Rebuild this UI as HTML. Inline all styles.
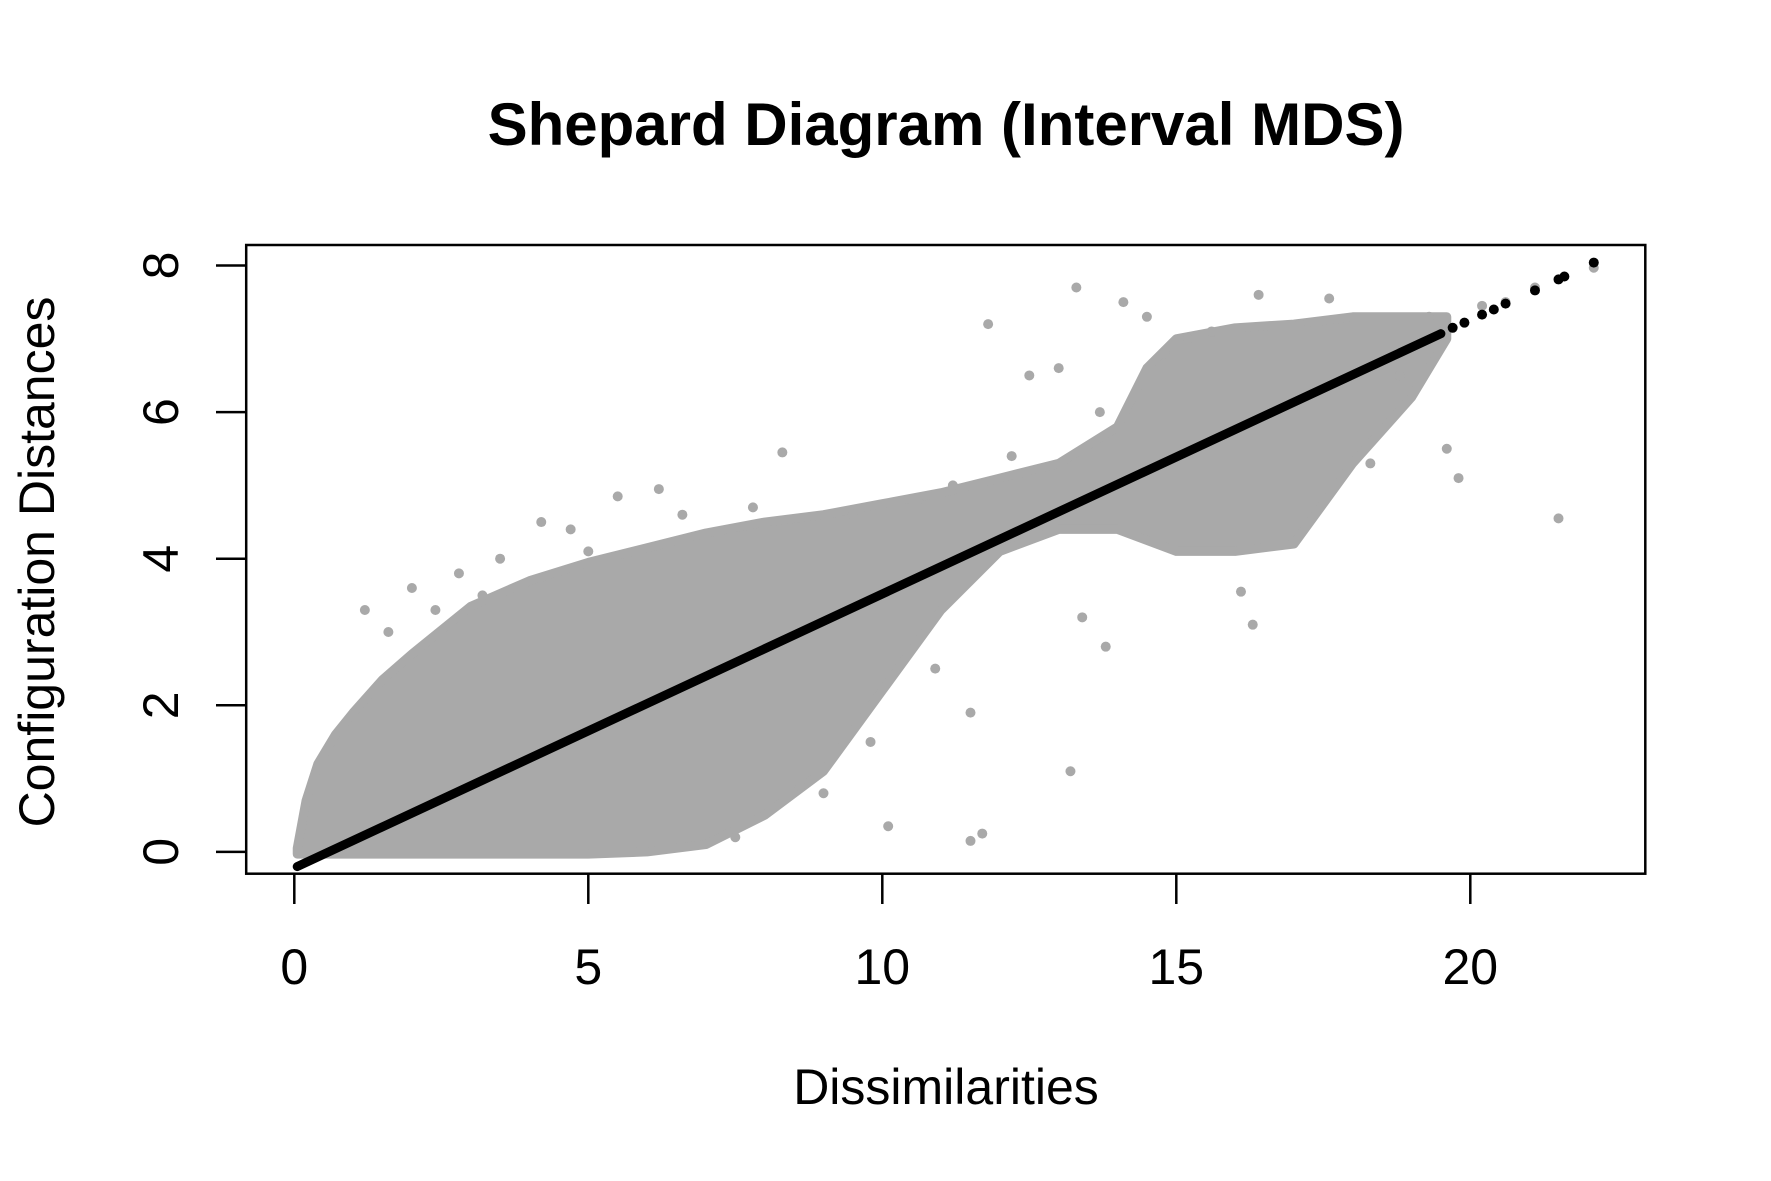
<!DOCTYPE html>
<html><head><meta charset="utf-8"><style>
html,body{margin:0;padding:0;background:#fff;}
svg{display:block;font-family:"Liberation Sans",Arial,sans-serif;}
</style></head><body>
<svg id="chart" width="1771" height="1181" viewBox="0 0 1771 1181">
<rect x="0" y="0" width="1771" height="1181" fill="#fff"/>
<text x="946" y="145" text-anchor="middle" font-size="60" font-weight="bold">Shepard Diagram (Interval MDS)</text>
<g id="plot"></g>
<text x="946" y="1104" text-anchor="middle" font-size="50">Dissimilarities</text>
<text transform="translate(54,562) rotate(-90)" text-anchor="middle" font-size="50">Configuration Distances</text>
</svg>
<script>
const xTicks = [0, 5, 10, 15, 20];
const yTicks = [0, 2, 4, 6, 8];
const envX     = [0.05, 0.2, 0.4, 0.7, 1, 1.5, 2, 3, 4, 5, 6, 7, 8, 9, 10, 11, 12, 13, 14, 14.5, 15, 16, 17, 18, 19, 19.6];
const envUpper = [0.05, 0.7, 1.2, 1.6, 1.9, 2.35, 2.7, 3.35, 3.7, 3.95, 4.15, 4.35, 4.5, 4.6, 4.75, 4.9, 5.1, 5.3, 5.8, 6.6, 7.0, 7.15, 7.2, 7.3, 7.3, 7.3];
const envLower = [-0.03, -0.03, -0.03, -0.03, -0.03, -0.03, -0.03, -0.03, -0.03, -0.03, 0.0, 0.1, 0.5, 1.1, 2.2, 3.3, 4.1, 4.4, 4.4, 4.25, 4.1, 4.1, 4.2, 5.3, 6.2, 7.0];
const outX = [13.3, 11.8, 14.1, 16.4, 8.3, 5.5, 6.2, 4.7, 4.2, 2.8, 1.2, 13.2, 11.5, 11.7, 16.3, 16.1, 19.6, 19.8, 21.5, 14.5, 12.5, 13.0, 13.8, 13.4, 11.5, 10.1, 17.6, 19.3, 20.2, 20.6, 21.1, 22.1, 9.0, 7.5, 3.5, 2.0, 15.2, 17.1, 1.6, 2.4, 3.2, 5.0, 6.6, 7.8, 9.5, 10.6, 11.2, 12.2, 13.7, 14.8, 15.6, 18.3, 18.8, 8.6, 9.8, 10.9];
const outY = [7.7, 7.2, 7.5, 7.6, 5.45, 4.85, 4.95, 4.4, 4.5, 3.8, 3.3, 1.1, 0.15, 0.25, 3.1, 3.55, 5.5, 5.1, 4.55, 7.3, 6.5, 6.6, 2.8, 3.2, 1.9, 0.35, 7.55, 7.3, 7.45, 7.5, 7.7, 7.97, 0.8, 0.2, 4.0, 3.6, 7.0, 7.2, 3.0, 3.3, 3.5, 4.1, 4.6, 4.7, 4.6, 4.8, 5.0, 5.4, 6.0, 6.8, 7.1, 5.3, 6.5, 0.9, 1.5, 2.5];
const fitX = [0.05, 19.5];
const fitY = [-0.2, 7.07];
const dotX = [19.7, 19.9, 20.2, 20.4, 20.6, 21.1, 21.5, 21.6, 22.1];
const dotY = [7.15, 7.22, 7.33, 7.40, 7.48, 7.66, 7.81, 7.85, 8.04];

const NS = "http://www.w3.org/2000/svg";
const X0 = 294.3, XU = 58.8, Y0 = 851.9, YU = 73.3;
function sx(v){ return X0 + v * XU; }
function sy(v){ return Y0 - v * YU; }
const plot = document.getElementById('plot');
function mk(tag, attrs){ const e = document.createElementNS(NS, tag); for (const k in attrs) e.setAttribute(k, attrs[k]); plot.appendChild(e); return e; }

let pts = [];
for (let i = 0; i < envX.length; i++) pts.push(sx(envX[i]) + ',' + sy(envUpper[i]));
for (let i = envX.length - 1; i >= 0; i--) pts.push(sx(envX[i]) + ',' + sy(envLower[i]));
const cloud = mk('polygon', {points: pts.join(' '), fill: '#a9a9a9', stroke: '#a9a9a9', 'stroke-width': 9, 'stroke-linejoin': 'round'});



for (let i = 0; i < outX.length; i++) {
  const c = mk('circle', {cx: sx(outX[i]), cy: sy(outY[i]), r: 5, fill: '#a9a9a9'});
  
  
}
const fl = mk('line', {x1: sx(fitX[0]), y1: sy(fitY[0]), x2: sx(fitX[1]), y2: sy(fitY[1]), stroke: '#000', 'stroke-width': 9, 'stroke-linecap': 'round'});


for (let i = 0; i < dotX.length; i++) {
  const c = mk('circle', {cx: sx(dotX[i]), cy: sy(dotY[i]), r: 5, fill: '#000'});
  
  
}

const fr = mk('rect', {x: 246.2, y: 245, width: 1399.1, height: 628.7, fill: 'none', stroke: '#000', 'stroke-width': 2.5});



for (const t of xTicks) {
  const l = mk('line', {x1: sx(t), x2: sx(t), y1: 873.7, y2: 904, stroke: '#000', 'stroke-width': 2.5});
  
  
  const tx = mk('text', {x: sx(t), y: 984, 'text-anchor': 'middle', 'font-size': 50});
  tx.textContent = t;
  
  
}
for (const t of yTicks) {
  const l = mk('line', {x1: 216, x2: 246.2, y1: sy(t), y2: sy(t), stroke: '#000', 'stroke-width': 2.5});
  
  
  const tx = mk('text', {transform: 'translate(178,' + sy(t) + ') rotate(-90)', 'text-anchor': 'middle', 'font-size': 50});
  tx.textContent = t;
  
  
}
</script>
</body></html>
